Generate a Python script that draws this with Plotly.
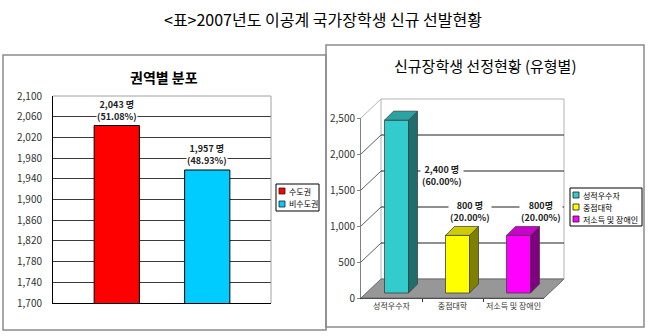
import plotly.graph_objects as go

# ---------------- data ----------------
# 권역별 분포
region_names = ["수도권", "비수도권"]
region_counts = [2043, 1957]
region_pct = [51.08, 48.93]
region_ticks = list(range(1700, 2101, 40))

# 신규장학생 선정현황 (유형별)
type_names = ["성적우수자", "중점대학", "저소득 및 장애인"]
type_counts = [2400, 800, 800]
type_pct = [60.00, 20.00, 20.00]
type_ticks = list(range(0, 2501, 500))

# ---------------- styles ----------------
W, H = 650, 336
FONT = "Noto Sans CJK KR"
region_colors = ["#FF0000", "#00CCFF"]
face_colors = ["#33CCCC", "#FFFF00", "#FF00FF"]
side_colors = ["#1F6E6E", "#808000", "#800080"]
top_colors = ["#29A3A3", "#CCCC00", "#CC00CC"]
unit_sep = [" ", " ", ""]            # "800명" has no space in the last label


def px(x):
    return x / W


def py(y):
    return 1 - y / H


fig = go.Figure()

# ---------------- left chart: 권역별 분포 ----------------
BARGAP, GROUPGAP = 0.17, 0.5
for name, val, col in zip(region_names, region_counts, region_colors):
    fig.add_trace(go.Bar(
        x=[0], y=[val], name=name, xaxis="x", yaxis="y",
        marker=dict(color=col, line=dict(color="#000000", width=1)),
        showlegend=False, hoverinfo="skip",
    ))

slot = (1 - BARGAP) / 2
for i, (val, pct) in enumerate(zip(region_counts, region_pct)):
    fig.add_annotation(
        x=(i - 0.5) * slot, y=val, xref="x", yref="y",
        text=f"<b>{val:,} 명</b><br><b>({pct:.2f}%)</b>",
        showarrow=False, xanchor="center", yanchor="bottom", yshift=2,
        font=dict(family=FONT, size=9, color="#222"),
        bgcolor="white", borderpad=0,
    )

# ---------------- right chart: 3-D style columns ----------------
KX = 61.0          # px per category
KY = 0.072         # px per count
FX0, FY0 = 361, 298  # front-left corner of the floor
WALL_DX, WALL_DY = 20 / KX, 19 / KY
BAR_DX, BAR_DY = 9 / KX, 9 / KY
BAR_SHIFT = 5      # bars stand slightly behind the front edge
BAR_W = 24 / KX

# frame big enough for walls, floor and bar sides (same scale as the front axes)
BX0, BX1, BY_TOP, BY_BOT = 340, 600, 86, 322
big_xrange = [(BX0 - FX0) / KX - 0.5, (BX1 - FX0) / KX - 0.5]
big_yrange = [(FY0 - BY_BOT) / KY, (FY0 - BY_TOP) / KY]

# bar front faces
fig.add_trace(go.Bar(
    x=list(range(len(type_names))), y=type_counts, width=BAR_W,
    xaxis="x4", yaxis="y4",
    marker=dict(color=face_colors, line=dict(color="#404040", width=0.8)),
    showlegend=False, hoverinfo="skip",
))
# bar side and top faces
for i, (val, sc, tc) in enumerate(zip(type_counts, side_colors, top_colors)):
    r = i + BAR_W / 2
    l = i - BAR_W / 2
    fig.add_trace(go.Scatter(
        x=[r, r + BAR_DX, r + BAR_DX, r, r], y=[0, BAR_DY, val + BAR_DY, val, 0],
        xaxis="x4", yaxis="y4", mode="lines", fill="toself", fillcolor=sc,
        line=dict(color="#404040", width=0.8), showlegend=False, hoverinfo="skip",
    ))
    fig.add_trace(go.Scatter(
        x=[l, r, r + BAR_DX, l + BAR_DX, l], y=[val, val, val + BAR_DY, val + BAR_DY, val],
        xaxis="x4", yaxis="y4", mode="lines", fill="toself", fillcolor=tc,
        line=dict(color="#404040", width=0.8), showlegend=False, hoverinfo="skip",
    ))

# walls, floor and gridlines
n = len(type_names)
xl, xr = -0.5, n - 0.5
shapes = []
shapes.append(dict(type="rect", xref="x3", yref="y3", layer="below",
                   x0=xl + WALL_DX, x1=xr + WALL_DX, y0=WALL_DY, y1=type_ticks[-1] + WALL_DY,
                   fillcolor="white", line=dict(color="#B4B4B4", width=1)))
for v in type_ticks[1:-1]:
    shapes.append(dict(type="line", xref="x3", yref="y3", layer="below",
                       x0=xl + WALL_DX, x1=xr + WALL_DX, y0=v + WALL_DY, y1=v + WALL_DY,
                       line=dict(color="#202020", width=1)))
for v in type_ticks[1:]:
    shapes.append(dict(type="line", xref="x3", yref="y3", layer="below",
                       x0=xl, x1=xl + WALL_DX, y0=v, y1=v + WALL_DY,
                       line=dict(color="#B4B4B4" if v == type_ticks[-1] else "#606060", width=1)))
shapes.append(dict(type="path", xref="x3", yref="y3", layer="below",
                   path=f"M {xl},0 L {xr},0 L {xr + WALL_DX},{WALL_DY} L {xl + WALL_DX},{WALL_DY} Z",
                   fillcolor="#979797", line=dict(color="#6A6A6A", width=1)))

# value labels
right_label_pos = [(0.83, 1700), (1.29, 1200), (2.45, 1200)]
for (lx, ly), val, pct, sep in zip(right_label_pos, type_counts, type_pct, unit_sep):
    fig.add_annotation(
        x=lx, y=ly, xref="x2", yref="y2",
        text=f"<b>{val:,}{sep}명</b><br><b>({pct:.2f}%)</b>",
        showarrow=False, xanchor="center", yanchor="middle",
        font=dict(family=FONT, size=9, color="#222"),
        bgcolor="white", borderpad=1,
    )

# ---------------- panels, titles, legends ----------------
shapes.append(dict(type="rect", xref="paper", yref="paper", layer="below",
                   x0=px(3), x1=px(326), y0=py(330), y1=py(55),
                   line=dict(color="#8A8A8A", width=1.5)))
shapes.append(dict(type="rect", xref="paper", yref="paper", layer="below",
                   x0=px(326), x1=px(644), y0=py(327), y1=py(45),
                   line=dict(color="#8A8A8A", width=1.5)))
# left plot-area frame: light top and right edges
shapes.append(dict(type="path", xref="x domain", yref="y domain", layer="above",
                   path="M 0,1 L 1,1 L 1,0", line=dict(color="#A0A0A0", width=1)))


def legend_box(x0, x1, y0, y1, names, colors, y_first, step):
    shapes.append(dict(type="rect", xref="paper", yref="paper",
                       x0=px(x0), x1=px(x1), y0=py(y1), y1=py(y0),
                       fillcolor="white", line=dict(color="#000000", width=1)))
    for k, (nm, c) in enumerate(zip(names, colors)):
        yc = y_first + k * step
        shapes.append(dict(type="rect", xref="paper", yref="paper",
                           x0=px(x0 + 3), x1=px(x0 + 9), y0=py(yc + 3), y1=py(yc - 3),
                           fillcolor=c, line=dict(color="#202020", width=0.8)))
        fig.add_annotation(x=px(x0 + 11), y=py(yc), xref="paper", yref="paper",
                           text=nm, showarrow=False, xanchor="left", yanchor="middle",
                           font=dict(family=FONT, size=8, color="#000"))


legend_box(276, 319, 184, 211, region_names, region_colors, 191, 13)
legend_box(570, 642, 188, 226, type_names, face_colors, 195, 12)

fig.add_annotation(x=px(323), y=py(19), xref="paper", yref="paper",
                   text="<표>2007년도 이공계 국가장학생 신규 선발현황", showarrow=False,
                   xanchor="center", yanchor="middle",
                   font=dict(family=FONT, size=16, color="#000"))
fig.add_annotation(x=px(164), y=py(77), xref="paper", yref="paper",
                   text="<b>권역별 분포</b>", showarrow=False,
                   xanchor="center", yanchor="middle",
                   font=dict(family=FONT, size=14, color="#000"))
fig.add_annotation(x=px(485), y=py(65), xref="paper", yref="paper",
                   text="신규장학생 선정현황 (유형별)", showarrow=False,
                   xanchor="center", yanchor="middle",
                   font=dict(family=FONT, size=15, color="#000"))

tickfont = dict(family=FONT, size=10, color="#333")
catfont = dict(family=FONT, size=8, color="#333")
hidden = dict(visible=False, showgrid=False, zeroline=False, fixedrange=True)

fig.update_layout(
    width=W, height=H, margin=dict(l=0, r=0, t=0, b=0, pad=0, autoexpand=False),
    paper_bgcolor="white", plot_bgcolor="rgba(0,0,0,0)",
    barmode="group", bargap=BARGAP, bargroupgap=GROUPGAP,
    showlegend=False, shapes=shapes,
    font=dict(family=FONT),
    # left chart
    xaxis=dict(domain=[px(53), px(271)], range=[-0.5, 0.5], showticklabels=False,
               showgrid=False, zeroline=False, showline=True, linecolor="#000", linewidth=1,
               ticks="", fixedrange=True),
    yaxis=dict(domain=[py(303), py(96)], range=[region_ticks[0], region_ticks[-1]],
               tickvals=region_ticks, tickformat=",", tickfont=tickfont,
               showgrid=True, gridcolor="#3A3A3A", gridwidth=1, zeroline=False,
               showline=True, linecolor="#000", linewidth=1, ticks="",
               ticklabelstandoff=8, fixedrange=True),
    # right chart: front axes
    xaxis2=dict(domain=[px(FX0), px(FX0 + n * KX)], range=[xl, xr], anchor="y2",
                tickvals=list(range(n)), ticktext=type_names, tickfont=catfont, ticks="",
                minor=dict(tickvals=[k + 0.5 for k in range(n - 1)], ticks="outside",
                           ticklen=3, tickcolor="#333"),
                showgrid=False, zeroline=False, showline=True, linecolor="#333",
                fixedrange=True),
    yaxis2=dict(domain=[py(FY0), py(FY0 - type_ticks[-1] * KY)],
                range=[0, type_ticks[-1]], anchor="x2",
                tickvals=type_ticks, tickformat=",", tickfont=tickfont,
                ticks="outside", ticklen=3, tickcolor="#808080",
                showgrid=False, zeroline=False, showline=True, linecolor="#808080",
                fixedrange=True),
    # walls / floor frame
    xaxis3=dict(domain=[px(BX0), px(BX1)], range=big_xrange, anchor="y3", **hidden),
    yaxis3=dict(domain=[py(BY_BOT), py(BY_TOP)], range=big_yrange, anchor="x3", **hidden),
    # bar frame (shifted back into the floor)
    xaxis4=dict(domain=[px(BX0 + BAR_SHIFT), px(BX1 + BAR_SHIFT)], range=big_xrange,
                anchor="y4", **hidden),
    yaxis4=dict(domain=[py(BY_BOT - BAR_SHIFT), py(BY_TOP - BAR_SHIFT)], range=big_yrange,
                anchor="x4", **hidden),
)

fig.write_html("out.html", config={"displayModeBar": False})
